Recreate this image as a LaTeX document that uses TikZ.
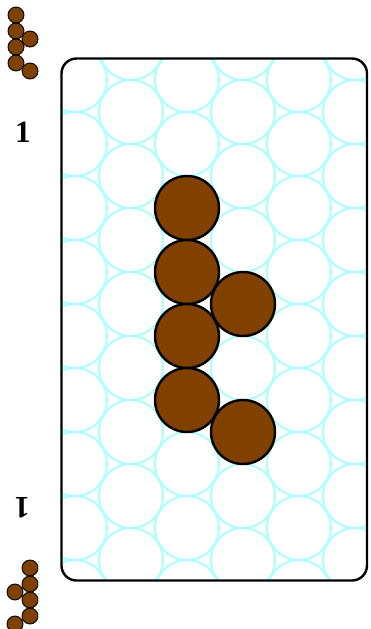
\documentclass[tikz,border=0pt]{standalone}
\usepackage{fontspec}
\setmainfont{Liberation Serif}
\definecolor{hexline}{HTML}{AAFFFF}
\definecolor{brownfill}{HTML}{804000}
\tikzset{
  gridcirc/.style={draw=hexline,line width=2pt},
  bigbead/.style={draw=black,fill=brownfill,line width=2.4pt},
  smallbead/.style={draw=black,fill=brownfill,line width=0.9pt},
  cardedge/.style={draw=black,line width=2.4pt,rounded corners=15pt},
  numlabel/.style={font=\bfseries\fontsize{31}{31}\selectfont,inner sep=0pt}
}
\begin{document}
\begin{tikzpicture}[x=1pt,y=-1pt]
\useasboundingbox (0,0) rectangle (371,629);
% grid clipped to card
\begin{scope}
  \clip[rounded corners=15pt] (61.5,58.5) rectangle (367,580.5);
  \foreach \k in {-1,...,6}{
    \pgfmathsetmacro{\cx}{75+56*\k}
    \pgfmathsetmacro{\off}{mod(\k+2,2)==0 ? 16 : 48}
    \foreach \j in {-2,...,10}{
      \draw[gridcirc] (\cx,{\off+64*\j}) circle[radius=32];
    }
  }
\end{scope}
% card border
\draw[cardedge] (61.5,58.5) rectangle (367,580.5);
% big beads
\foreach \p in {(187,208),(187,272),(243,304),(187,336),(187,400),(243,432)}{
  \draw[bigbead] \p circle[radius=32];
}
% small icon top
\foreach \p in {(16,15),(16,31),(30,39),(16,47),(16,63),(30,71)}{
  \draw[smallbead] \p circle[radius=8];
}
% small icon bottom
\foreach \p in {(30,568),(30,584),(15,592),(30,600),(30,616),(15,624)}{
  \draw[smallbead] \p circle[radius=8];
}
\node[numlabel] (numtop) at (23,132) {1};
\node[numlabel,rotate=180] (numbot) at (22,508) {1};
\end{tikzpicture}
\end{document}
